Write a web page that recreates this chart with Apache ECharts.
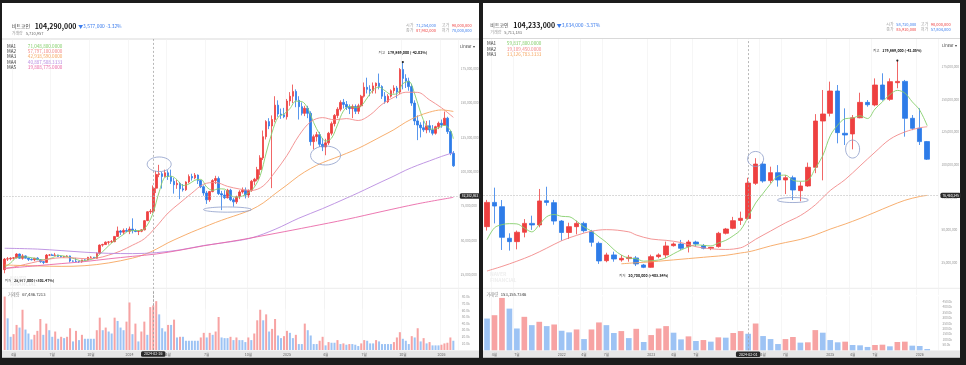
<!DOCTYPE html>
<html>
<head>
<meta charset="utf-8">
<script src="https://cdn.jsdelivr.net/npm/echarts@6/dist/echarts.min.js"></script>
<style>
html,body{margin:0;padding:0;background:#1c1c1c;}
#chart{width:966px;height:365px;}
</style>
</head>
<body>
<div id="chart"></div>
<script>
// ================= LEFT PANEL : weekly (prices in million KRW, volume in k) =================
const weeks = ['2023-03-13','2023-03-20','2023-03-27','2023-04-03','2023-04-10','2023-04-17','2023-04-24','2023-05-01','2023-05-08','2023-05-15','2023-05-22','2023-05-29','2023-06-05','2023-06-12','2023-06-19','2023-06-26','2023-07-03','2023-07-10','2023-07-17','2023-07-24','2023-07-31','2023-08-07','2023-08-14','2023-08-21','2023-08-28','2023-09-04','2023-09-11','2023-09-18','2023-09-25','2023-10-02','2023-10-09','2023-10-16','2023-10-23','2023-10-30','2023-11-06','2023-11-13','2023-11-20','2023-11-27','2023-12-04','2023-12-11','2023-12-18','2023-12-25',
'2024-01-01','2024-01-08','2024-01-15','2024-01-22','2024-01-29','2024-02-05','2024-02-12','2024-02-19','2024-02-26','2024-03-04','2024-03-11','2024-03-18','2024-03-25','2024-04-01','2024-04-08','2024-04-15','2024-04-22','2024-04-29','2024-05-06','2024-05-13','2024-05-20','2024-05-27','2024-06-03','2024-06-10','2024-06-17','2024-06-24','2024-07-01','2024-07-08','2024-07-15','2024-07-22','2024-07-29','2024-08-05','2024-08-12','2024-08-19','2024-08-26','2024-09-02','2024-09-09','2024-09-16','2024-09-23','2024-09-30','2024-10-07','2024-10-14','2024-10-21','2024-10-28','2024-11-04','2024-11-11','2024-11-18','2024-11-25','2024-12-02','2024-12-09','2024-12-16','2024-12-23','2024-12-30',
'2025-01-06','2025-01-13','2025-01-20','2025-01-27','2025-02-03','2025-02-10','2025-02-17','2025-02-24','2025-03-03','2025-03-10','2025-03-17','2025-03-24','2025-03-31','2025-04-07','2025-04-14','2025-04-21','2025-04-28','2025-05-05','2025-05-12','2025-05-19','2025-05-26','2025-06-02','2025-06-09','2025-06-16','2025-06-23','2025-06-30','2025-07-07','2025-07-14','2025-07-21','2025-07-28','2025-08-04','2025-08-11','2025-08-18','2025-08-25','2025-09-01','2025-09-08','2025-09-15','2025-09-22','2025-09-29','2025-10-06','2025-10-13','2025-10-20','2025-10-27','2025-11-03','2025-11-10','2025-11-17','2025-11-24','2025-12-01','2025-12-08','2025-12-15','2025-12-22','2025-12-29',
'2026-01-05','2026-01-12','2026-01-19','2026-01-26','2026-02-02'];

const wOpen = [28.6,36.3,36.5,37.0,37.2,40.0,36.9,38.6,37.0,36.1, 35.8,37.0,35.8,34.4,33.9,39.2,39.3,39.0,39.3,38.2,
 37.8,38.1,38.6,34.9,34.8,34.5,34.4,35.7,35.6,37.6, 37.7,36.9,40.5,46.5,46.9,48.6,48.8,49.0,52.8,56.8,
 55.9,57.2,56.5,58.2,57.0,56.4,56.6,57.6,64.3,70.8, 71.254,88.0,98.0,98.5,96.5,99.2,96.5,93.0,90.5,91.5,
 87.5,86.8,92.5,96.5,95.5,97.5,93.5,89.0,84.5,79.5, 85.5,93.5,95.0,84.0,83.0,81.0,86.5,79.5,78.0,81.8,
 85.2,86.5,83.0,86.4,93.0,94.5,101.5,110.0,125.5,136.5, 133.3,138.0,148.5,142.0,141.5,140.0,151.5,155.0,158.5,152.0,
 147.4,142.5,146.2,142.5,121.9,125.5,127.0,120.0,118.0,121.0, 128.0,135.0,141.0,145.5,150.5,149.0,147.0,146.0,147.5,144.0,
 148.0,155.0,161.5,160.0,159.0,162.5,164.5,162.0,155.0,151.0, 155.0,159.0,161.0,158.0,174.5,168.0,166.0,162.0,150.0,137.0,
 134.0,132.0,130.5,133.5,130.5,128.0,132.8,135.3,134.0,139.0, 129.2,113.4];
const wHigh = [37.1,37.8,37.6,37.7,40.6,40.3,39.9,39.0,37.4,36.9, 37.1,37.7,36.3,34.9,40.0,40.0,40.2,40.8,39.5,38.8,
 38.5,39.1,38.9,35.3,37.2,35.0,35.8,36.2,37.9,38.4, 37.8,41.2,47.0,47.5,49.2,49.4,50.2,53.0,60.0,57.5,
 58.6,58.9,60.0,66.0,58.3,57.3,58.0,64.8,71.2,72.8, 90.0,100.6,105.0,99.9,101.5,101.0,101.5,95.5,94.0,92.5,
 91.0,93.0,98.0,98.5,99.0,98.0,94.0,90.0,86.0,86.0, 94.5,97.0,96.5,86.0,86.5,87.5,87.5,81.0,82.5,86.5,
 88.5,88.5,87.0,94.0,95.5,103.5,112.0,130.0,137.5,139.0, 141.0,155.0,152.0,146.0,146.5,153.0,158.0,163.5,160.0,155.0,
 150.5,148.0,148.0,144.0,127.0,129.0,129.0,124.5,124.0,129.0, 136.5,142.0,147.0,152.0,153.0,151.5,149.0,149.0,149.0,149.5,
 156.0,165.0,168.5,163.0,165.0,165.0,171.5,163.0,158.0,156.5, 160.0,163.0,162.5,175.5,179.869,171.0,168.5,164.0,152.0,141.0,
 136.0,137.0,137.0,137.5,134.0,133.5,136.5,138.0,143.8,140.0, 130.0,115.0];
const wLow = [25.977,34.9,35.4,36.0,36.8,36.5,35.9,36.8,34.9,35.3, 34.8,35.6,33.6,32.6,33.8,38.5,38.8,38.8,37.9,37.5,
 37.3,37.9,33.9,34.4,34.1,33.5,33.6,35.0,35.3,36.9, 36.3,36.6,40.3,45.3,46.6,46.9,47.9,48.6,52.5,53.8,
 54.3,55.9,54.5,55.0,55.9,53.8,55.9,57.2,64.0,69.2, 70.0,84.4,96.0,87.7,95.8,94.0,91.0,84.0,87.5,80.0,
 85.5,86.0,91.5,93.5,94.5,91.0,88.0,82.5,76.5,78.0, 85.0,91.0,83.0,72.0,80.0,80.5,78.5,74.5,76.5,80.0,
 84.0,80.5,81.0,85.3,90.0,93.0,97.5,108.5,123.5,131.0, 88.0,136.0,140.0,138.5,139.0,138.0,148.0,150.0,147.0,138.0,
 141.0,140.5,139.0,119.0,116.3,122.0,118.0,115.0,112.0,119.5, 126.5,133.0,139.0,144.0,146.0,145.0,142.0,139.0,142.0,142.0,
 147.0,154.0,157.0,155.0,157.0,157.0,160.0,153.0,149.5,150.0, 154.0,157.0,153.5,156.5,160.0,161.0,159.0,148.0,134.0,123.0,
 125.0,129.0,128.0,128.5,126.5,127.0,131.0,132.0,133.5,127.5, 112.0,103.5];
const wClose = [36.3,36.5,37.0,37.2,40.0,36.9,38.6,37.0,36.1,35.8, 37.0,35.8,34.4,33.9,39.2,39.3,39.0,39.3,38.2,37.8,
 38.1,38.6,34.9,34.8,34.5,34.4,35.7,35.6,37.6,37.7, 36.9,40.5,46.5,46.9,48.6,48.8,49.0,52.8,56.8,55.9,
 57.2,56.5,58.2,57.0,56.4,56.6,57.6,64.3,70.8,71.25, 87.982,98.0,98.5,96.5,99.2,96.5,93.0,90.5,91.5,87.5,
 86.8,92.5,96.5,95.5,97.5,93.5,89.0,84.5,79.5,85.5, 93.5,95.0,84.0,83.0,81.0,86.5,79.5,78.0,81.8,85.2,
 86.5,83.0,86.4,93.0,94.5,101.5,110.0,125.5,136.5,133.3, 138.0,148.5,142.0,141.5,140.0,151.5,155.0,158.5,152.0,147.4,
 142.5,146.2,142.5,121.9,125.5,127.0,120.0,118.0,121.0,128.0, 135.0,141.0,145.5,150.5,149.0,147.0,146.0,147.5,144.0,148.0,
 155.0,161.5,160.0,159.0,162.5,164.5,162.0,155.0,151.0,155.0, 159.0,161.0,158.0,174.5,168.0,166.0,162.0,150.0,137.0,134.0,
 132.0,130.5,133.5,130.5,128.0,132.8,135.3,134.0,139.0,129.2, 113.4,104.29];
const wVolume = [81,48,20,24,38,34,61,31,25,16, 23,29,47,23,40,30,20,28,17,20, 18,20,33,13,29,15,23,17,17,17,
 17,30,49,30,34,28,25,49,44,34, 30,43,72,24,40,13,28,43,23,65, 67.49,74,54,33,28,38,38,46,19,20,
 20,14,14,14,14,14,19,26,19,26, 23,28,50,19,18,18,20,15,19,15, 15,12,19,15,25,45,61,45,54,28,
 32,47,22,18,21,29,26,18,23,9, 9,40,30,22,9,9,14,20,7,12, 11,11,15,9,10,8,9,9,8,6,
 10,15,14,10,10,15,13,9,9,9, 9,12,19,27,17,14,9,21,19,33, 13,18,10,12,7,7,7,8,10,11, 19,14];

// moving-average lines: [week index, value]
const wMA1 = [[0,30.5],[2,33.5],[4,37.4],[6,37.9],[8,37.7],[10,36.9],[12,35.8],[14,36.1],[16,37.2],[18,39.0],[20,38.5],[22,37.5],[24,36.2],[26,34.9],[28,35.6],[30,36.7],[32,39.8],[34,43.9],[36,48.0],[38,51.2],[40,54.3],[42,56.9],[44,57.1],[46,57.2],[48,61.1],[50,70.4],[52,85.3],[54,96.0],[56,96.7],[58,94.1],[60,89.9],[62,91.0],[64,93.8],[66,94.4],[68,88.8],[70,86.4],[72,87.5],[74,87.3],[76,82.8],[78,81.4],[80,82.2],[82,84.6],[84,88.7],[86,97.1],[88,113.6],[90,128.7],[92,139.7],[94,142.0],[96,146.0],[98,151.4],[100,151.1],[102,146.1],[104,135.7],[106,127.4],[108,122.3],[110,124.4],[112,134.1],[114,144.2],[116,147.6],[118,146.7],[120,148.1],[122,153.7],[124,159.6],[126,161.6],[128,159.0],[130,156.4],[132,156.8],[134,164.1],[136,165.7],[138,156.6],[140,143.0],[142,133.4],[144,130.9],[146,132.0],[148,133.8],[150,130.2],[151,124.0]];
const wMA2 = [[0,29.5],[3,30.5],[7,32.5],[11,34.5],[15,36.3],[19,37.3],[23,37.2],[27,36.6],[31,37.0],[35,39.2],[39,42.2],[43,46.4],[47,51.1],[51,59.9],[55,69.9],[59,77.3],[63,84.4],[67,90.9],[71,92.1],[75,89.3],[79,87.4],[83,86.3],[87,89.6],[91,99.8],[95,111.8],[99,126.2],[103,136.4],[107,139.4],[111,137.8],[115,138.7],[119,137.3],[123,141.4],[127,149.1],[131,154.2],[135,157.9],[139,157.8],[143,152.3],[147,146.6],[151,139.6]];
const wMA3 = [[0,32.0],[3,31.8],[11,31.3],[19,31.0],[27,31.5],[35,33.5],[43,37.0],[47,39.6],[51,43.5],[55,48.2],[59,52.2],[63,56.0],[67,59.5],[71,63.0],[75,66.1],[79,69.0],[83,72.3],[87,77.2],[91,83.9],[95,90.3],[99,97.0],[103,102.4],[107,106.6],[111,109.9],[115,113.3],[119,117.0],[123,121.4],[127,126.0],[131,130.6],[135,136.1],[139,140.4],[143,143.4],[147,145.0],[151,143.9]];
const wMA4 = [[0,44.2],[11,43.6],[19,42.5],[27,41.3],[35,40.5],[43,40.3],[51,41.0],[59,43.0],[67,46.2],[75,48.6],[83,51.7],[91,58.0],[99,66.1],[107,73.1],[115,80.7],[119,84.6],[123,88.7],[127,92.8],[131,96.8],[135,101.1],[139,104.7],[143,107.9],[147,111.1],[151,113.9]];
const wMA5 = [[0,29.5],[11,31.5],[19,33.0],[27,34.5],[35,36.5],[43,38.3],[51,40.0],[59,42.8],[67,46.0],[79,50.2],[91,55.0],[103,60.0],[115,65.2],[127,71.0],[139,76.6],[151,81.3]];
const wMALegend = ['71,048,800.0000','57,797,100.0000','42,938,590.0000','40,887,508.3333','39,808,775.0000'];

// ================= RIGHT PANEL : monthly =================
const months = ['2021-03-01','2021-04-01','2021-05-01','2021-06-01','2021-07-01','2021-08-01','2021-09-01','2021-10-01','2021-11-01','2021-12-01',
 '2022-01-01','2022-02-01','2022-03-01','2022-04-01','2022-05-01','2022-06-01','2022-07-01','2022-08-01','2022-09-01','2022-10-01','2022-11-01','2022-12-01',
 '2023-01-01','2023-02-01','2023-03-01','2023-04-01','2023-05-01','2023-06-01','2023-07-01','2023-08-01','2023-09-01','2023-10-01','2023-11-01','2023-12-01',
 '2024-01-01','2024-02-01','2024-03-01','2024-04-01','2024-05-01','2024-06-01','2024-07-01','2024-08-01','2024-09-01','2024-10-01','2024-11-01','2024-12-01',
 '2025-01-01','2025-02-01','2025-03-01','2025-04-01','2025-05-01','2025-06-01','2025-07-01','2025-08-01','2025-09-01','2025-10-01','2025-11-01','2025-12-01',
 '2026-01-01','2026-02-01'];
const mOpen = [52.5,71.1,67.8,43.6,41.0,48.2,55.0,53.8,72.4,70.9, 56.8,48.0,52.5,55.0,48.6,39.7,26.4,30.8,27.0,28.0,
 28.5,23.1,21.3,29.5,30.8,37.9,39.2,37.2,40.7,37.9, 35.9,37.2,47.4,51.2,57.3,58.73,85.7,100.5,87.8,93.9,
 88.3,90.0,80.1,83.7,98.0,133.5,139.4,156.5,124.1,123.6, 136.0,147.8,145.8,161.1,150.1,162.9,163.9,135.6,127.9,117.7];
const mHigh = [73.0,82.4,72.9,47.4,49.5,58.3,60.9,81.4,83.1,73.0, 57.5,55.5,57.1,56.3,50.0,41.0,32.5,33.3,30.8,30.8,
 30.0,23.9,31.0,32.0,41.0,40.4,42.3,42.3,41.7,39.2, 36.9,48.5,51.5,60.0,64.0,90.0,105.0,102.3,98.5,99.7,
 92.0,91.6,87.0,101.6,138.8,157.3,163.7,161.1,143.2,138.1, 155.2,149.6,166.2,170.1,166.2,179.869,165.0,138.1,143.2,118.2];
const mLow = [49.5,55.0,34.6,34.1,35.1,44.3,50.0,52.0,68.6,54.0, 41.7,43.0,46.6,47.9,37.2,23.9,25.2,25.6,25.6,25.6,
 22.3,20.7,20.9,28.2,28.5,37.2,34.6,32.7,37.2,35.1, 34.5,36.4,46.5,50.5,53.8,57.804,84.5,86.2,85.7,83.2,
 77.5,72.9,72.0,83.0,93.5,88.0,137.0,116.4,115.1,111.8, 135.6,144.5,144.8,149.1,149.0,158.6,121.5,126.5,115.1,103.6];
const mClose = [71.1,68.3,44.3,41.0,48.2,55.0,53.8,72.2,71.1,56.8, 48.0,52.5,55.0,49.4,40.5,26.2,30.8,27.7,28.2,29.0,
 23.9,21.3,29.5,30.8,37.7,39.2,35.9,40.7,39.2,35.9, 36.6,47.4,50.7,57.1,58.9,85.91,100.5,87.5,93.9,88.3,
 90.0,80.6,83.7,98.0,133.5,138.9,156.5,124.6,122.8,136.0, 147.8,146.0,161.1,150.1,163.7,163.9,135.6,127.9,117.7,104.233];
const mVolume = [294,325,485,386,202,310,233,264,224,239, 181,166,193,104,193,258,233,160,178,113,
 199,77,141,202,224,163,101,129,86,95, 80,120,117,160,178,153.16,248,132,104,58,
 104,123,71,74,187,163,95,74,80,49, 46,31,49,52,37,77,80,43,40,12];
const mMA1 = [42.5,51.6,54.0,54.8,54.6,51.4,48.5,54.0,60.1,61.8, 60.4,60.1,56.7,52.3,49.1,44.7,40.4,34.9,30.7,28.4,
 27.9,26.0,26.4,26.9,28.6,31.7,34.6,36.9,38.5,38.2, 37.7,40.0,42.0,45.5,50.1,60.0,70.6,78.0,85.3,91.2,
 92.0,88.1,87.3,88.1,97.2,106.9,122.1,130.3,135.3,135.8, 137.5,135.4,142.7,148.2,153.7,157.0,154.9,148.2,141.8,129.9];
const mMA2 = [[0,18.5],[2,22.0],[4,26.0],[6,30.5],[8,36.0],[10,41.7],[12,45.8],[14,49.0],[16,50.2],[19,48.5],[20,46.1],[22,43.0],[24,42.0],[26,40.3],[28,37.1],[30,35.5],[32,35.0],[34,36.3],[35,39.1],[36,42.8],[38,49.1],[40,55.4],[42,61.0],[44,69.2],[46,80.2],[48,88.6],[50,99.1],[52,109.6],[54,119.5],[56,125.1],[58,128.3],[59,129.1]];
const mMA3 = [[18,24.0],[20,24.8],[22,25.5],[24,26.5],[26,27.5],[28,28.5],[30,29.5],[32,30.5],[34,32.3],[35,33.13],[36,34.5],[38,37.7],[40,40.3],[42,42.7],[44,46.2],[46,50.6],[48,54.5],[50,58.8],[52,63.5],[54,68.3],[56,72.7],[58,75.6],[59,76.46]];
const mMALegend = ['59,837,800.0000','39,109,450.0000','33,126,783.3333'];

// header / crosshair texts
const headL = {name:'비트코인', price:'104,290,000', chg:'▼3,577,000 -3.32%', vol:'5,710,957', o:'71,254,000', h:'90,000,000', c:'87,982,000', l:'70,000,000', crossDate:'2024-02-26', crossVol:'67,486.7213', crossPrice:82.282862};
const headR = {name:'비트코인', price:'104,233,000', chg:'▼3,634,000 -3.37%', vol:'5,711,183', o:'58,730,000', h:'90,000,000', c:'85,910,000', l:'57,804,000', crossDate:'2024-02-01', crossVol:'153,155.7346', crossPrice:76.460345};

// ================= rendering =================
const FONT = '"Noto Sans CJK KR","Noto Sans",sans-serif';
const UP='#ee4040', DOWN='#2e7ce8', VUP='#f7a3a3', VDOWN='#9dc3f4';
const MA_COLORS = ['#86cf6c','#f28a8a','#f6a660','#b98be0','#ea69a8'];
const fmtInt = v => Math.round(v).toLocaleString('en-US');
const fmtPrice = v => fmtInt(v*1e6);
const blackBox = {backgroundColor:'#2a2a2a', color:'#fff', fontSize:3.3, padding:[1,2], borderRadius:1.5, fontFamily:FONT};

function candles(o,c,l,h){ return o.map((v,i)=>[v,c[i],l[i],h[i]]); }
function vols(v, firstUp){ return v.map((x,i)=>({value:x, itemStyle:{color:(i===0?firstUp:x>v[i-1])?VUP:VDOWN}})); }
function pairs(cats, arr){ return arr.map(p=>[cats[p[0]], p[1]]); }
function argMax(a){ let k=0; a.forEach((v,i)=>{ if(v>a[k]) k=i; }); return k; }
function argMin(a){ let k=0; a.forEach((v,i)=>{ if(v<a[k]) k=i; }); return k; }
function pct(cur, ref){ const p=(cur/ref-1)*100; return (p>0?'+':'')+p.toFixed(2)+'%'; }

const weeklyTick = v => { if(!v) return false; const m=+v.slice(5,7), d=+v.slice(8,10); return d<=7 && [1,4,7,10].includes(m); };
const monthlyTick = v => { if(!v) return false; const m=+v.slice(5,7); return [1,4,7].includes(m); };
const tickText = v => { const m=+v.slice(5,7); return m===1 ? v.slice(0,4) : m+'월'; };

function xAxis(grid, cats, tickFn, showLabel){
  return {type:'category', gridIndex:grid, data:cats, boundaryGap:true,
    axisLine:{show:false}, axisTick:{show:false},
    axisLabel:{show:showLabel, interval:(i,v)=>tickFn(v), formatter:tickText, fontSize:3.6, color:'#666', margin:2.5, fontFamily:FONT},
    splitLine:{show:true, interval:(i,v)=>tickFn(v), lineStyle:{color:'#f0f0f0', width:0.6}}};
}
function priceAxis(grid, max){
  return {type:'value', gridIndex:grid, position:'right', min:0, max:max, interval:25, scale:false,
    splitLine:{show:false}, axisLine:{show:false}, axisTick:{show:false},
    axisLabel:{fontSize:3.2, color:'#9a9a9a', margin:3, fontFamily:FONT, showMinLabel:true, showMaxLabel:true,
      formatter:v => (v>=25 && v<=175 && v%25===0) ? fmtPrice(v) : ''}};
}
function volAxis(grid, max, interval, top){
  return {type:'value', gridIndex:grid, position:'right', min:0, max:max, interval:interval,
    splitLine:{show:false}, axisLine:{show:false}, axisTick:{show:false},
    axisLabel:{fontSize:3.2, color:'#9a9a9a', margin:4, fontFamily:FONT,
      formatter:v => (v>0 && v<=top) ? v.toFixed(1)+'k' : ''}};
}
function maSeries(name, data, color, xi, yi){
  return {name, type:'line', xAxisIndex:xi, yAxisIndex:yi, data, showSymbol:false, smooth:0.35, silent:true,
    lineStyle:{color, width:0.9}, z:3};
}
function candleSeries(cats, o,c,l,h, head, xi, yi, barW){
  const hi = argMax(h), lo = argMin(l);
  const cur = c[c.length-1];
  const curStr = fmtPrice(cur);
  return {type:'candlestick', xAxisIndex:xi, yAxisIndex:yi, data:candles(o,c,l,h), barWidth:barW, silent:true,
    itemStyle:{color:UP, color0:DOWN, borderColor:UP, borderColor0:DOWN, borderWidth:0.8},
    markLine:{symbol:['none','none'], silent:true, animation:false, data:[
      {xAxis:cats.indexOf(head.crossDate), lineStyle:{type:[2,2], color:'#9a9a9a', width:0.7}, label:{show:false}},
      {yAxis:head.crossPrice, lineStyle:{type:[1.5,1.5], color:'#b8b8b8', width:0.7},
        label:Object.assign({show:true, position:'end', distance:2, formatter:fmtPrice(head.crossPrice)}, blackBox)},
      {yAxis:cur, lineStyle:{opacity:0},
        label:Object.assign({}, blackBox, {show:true, position:'end', distance:2, formatter:curStr, backgroundColor:'#3f83ee'})}
    ]},
    markPoint:{silent:true, animation:false, data:[
      {coord:[hi, h[hi]], symbol:'circle', symbolSize:2.2, itemStyle:{color:'#222'},
        label:{show:true, position:'top', distance:2.5, fontFamily:FONT,
          formatter:'{a|최고} {b|'+fmtPrice(h[hi])+' ('+pct(cur,h[hi])+')}',
          rich:{a:{fontSize:3.6, color:'#555', fontFamily:FONT}, b:{fontSize:3.6, color:'#111', fontWeight:'bold', fontFamily:FONT}}}},
      {coord:[lo, l[lo]], symbol:'circle', symbolSize:0.1, itemStyle:{color:'#222'},
        label:{show:true, position:'bottom', distance:1.5, align: lo===0 ? 'left':'center', fontFamily:FONT,
          formatter:'{a|최저} {b|'+fmtPrice(l[lo])+' ('+pct(cur,l[lo])+')}',
          rich:{a:{fontSize:3.6, color:'#555', fontFamily:FONT}, b:{fontSize:3.6, color:'#111', fontWeight:'bold', fontFamily:FONT}}}}
    ]}};
}
function volSeries(v, firstUp, cats, head, xi, yi, barW){
  return {type:'bar', xAxisIndex:xi, yAxisIndex:yi, data:vols(v, firstUp), barWidth:barW, silent:true,
    markLine:{symbol:['none','none'], silent:true, animation:false, data:[
      {xAxis:cats.indexOf(head.crossDate), lineStyle:{type:[2,2], color:'#9a9a9a', width:0.7},
        label:Object.assign({}, blackBox, {show:true, position:'start', distance:1.2, formatter:head.crossDate, fontSize:3.6, padding:[1,3]})}
    ]}};
}

const catsL = weeks.concat(['']);
const catsR = months.concat(['']);

const option = {
  animation:false,
  backgroundColor:'#1c1c1c',
  textStyle:{fontFamily:FONT},
  grid:[
    {left:3.2, top:39, width:454.6, height:269.9, outerBoundsMode:'none'},
    {left:3.2, top:290.6, width:454.6, height:59.4, outerBoundsMode:'none'},
    {left:483.3, top:39, width:455.1, height:256.1, outerBoundsMode:'none'},
    {left:483.3, top:296.3, width:455.1, height:54, outerBoundsMode:'none'}
  ],
  xAxis:[ xAxis(0,catsL,weeklyTick,false), xAxis(1,catsL,weeklyTick,true), xAxis(2,catsR,monthlyTick,false), xAxis(3,catsR,monthlyTick,true) ],
  yAxis:[ priceAxis(0,196.7), volAxis(1,90,10,80), priceAxis(2,196.4), volAxis(3,500,50,450) ],
  series:[
    candleSeries(weeks, wOpen,wClose,wLow,wHigh, headL, 0,0,'70%'),
    maSeries('MA1', pairs(weeks,wMA1), MA_COLORS[0], 0,0),
    maSeries('MA2', pairs(weeks,wMA2), MA_COLORS[1], 0,0),
    maSeries('MA3', pairs(weeks,wMA3), MA_COLORS[2], 0,0),
    maSeries('MA4', pairs(weeks,wMA4), MA_COLORS[3], 0,0),
    maSeries('MA5', pairs(weeks,wMA5), MA_COLORS[4], 0,0),
    volSeries(wVolume, true, weeks, headL, 1,1,'68%'),
    candleSeries(months, mOpen,mClose,mLow,mHigh, headR, 2,2,'67%'),
    maSeries('MA1', mMA1.map((v,i)=>[months[i],v]), MA_COLORS[0], 2,2),
    maSeries('MA2', pairs(months,mMA2), MA_COLORS[1], 2,2),
    maSeries('MA3', pairs(months,mMA3), MA_COLORS[2], 2,2),
    volSeries(mVolume, false, months, headR, 3,3,'76%')
  ]
};

const chart = echarts.init(document.getElementById('chart'), null, {width:966, height:365});
chart.setOption(option);

// ---------- decorations ----------
function txt(x, y, text, size, fill, extra){
  return {type:'text', x, y, silent:true, z:20, style:Object.assign({text, fontSize:size, fill, fontFamily:FONT, verticalAlign:'middle', align:'left'}, extra||{})};
}
function rich(x, y, label, value, color){
  return {type:'text', x, y, silent:true, z:20, style:{text:'{l|'+label+'} {v|'+value+'}', fontFamily:FONT, verticalAlign:'middle', align:'left',
    rich:{l:{fontSize:4, fill:'#9a9a9a', fontFamily:FONT}, v:{fontSize:4, fill:color, fontFamily:FONT}}}};
}
function header(x0, yTop, head, ohlcX1, ohlcX2){
  return [
    txt(x0, yTop, head.name, 5, '#444'),
    txt(x0+23, yTop, head.price, 7, '#111', {fontWeight:'bold'}),
    txt(x0+66.5, yTop+0.3, head.chg, 4.9, '#3b7ced'),
    txt(x0, yTop+7.7, '거래량', 4, '#9a9a9a'),
    txt(x0+14, yTop+7.7, head.vol, 4, '#666'),
    rich(ohlcX1, yTop-0.3, '시가', head.o, '#3b7ced'),
    rich(ohlcX2, yTop-0.3, '고가', head.h, '#ee4040'),
    rich(ohlcX1, yTop+4.7, '종가', head.c, '#ee4040'),
    rich(ohlcX2, yTop+4.7, '저가', head.l, '#3b7ced')
  ];
}
function legend(x, valRight, y0, step, values){
  const out = [];
  values.forEach((v,i)=>{
    out.push(txt(x, y0+i*step, 'MA'+(i+1), 4.6, '#333'));
    out.push(txt(valRight, y0+i*step, v, 4.6, MA_COLORS[i], {align:'right'}));
  });
  return out;
}
function ellipse(gridIdx, idx, val, rx, ry){
  const p = chart.convertToPixel({xAxisIndex:gridIdx, yAxisIndex:gridIdx}, [idx, val]);
  return {type:'ellipse', silent:true, z:30, shape:{cx:p[0], cy:p[1], rx, ry}, style:{fill:'none', stroke:'#8d9dc9', lineWidth:0.8}};
}

const graphics = [
  {type:'rect', z:-10, silent:true, shape:{x:2, y:3, width:477, height:354.5}, style:{fill:'#ffffff'}},
  {type:'rect', z:-10, silent:true, shape:{x:483, y:3, width:477, height:354.5}, style:{fill:'#ffffff'}},
  {type:'rect', z:-9, silent:true, shape:{x:2, y:350.6, width:477, height:6.9}, style:{fill:'#e7e7e7'}},
  {type:'rect', z:-9, silent:true, shape:{x:483, y:350.6, width:477, height:6.9}, style:{fill:'#e7e7e7'}},
  {type:'line', z:-8, silent:true, shape:{x1:2, y1:39, x2:479, y2:39}, style:{stroke:'#cfcfcf', lineWidth:0.8}},
  {type:'line', z:-8, silent:true, shape:{x1:483, y1:38.5, x2:960, y2:38.5}, style:{stroke:'#cfcfcf', lineWidth:0.8}},
  {type:'line', z:-8, silent:true, shape:{x1:2, y1:288.3, x2:479, y2:288.3}, style:{stroke:'#e2e2e2', lineWidth:0.7}},
  {type:'line', z:-8, silent:true, shape:{x1:483, y1:288.3, x2:960, y2:288.3}, style:{stroke:'#e2e2e2', lineWidth:0.7}},
  txt(10, 278.5, 'NAVER', 5, '#efefef', {fontWeight:'bold'}),
  txt(10, 284, 'FINANCIAL', 5, '#efefef', {fontWeight:'bold'}),
  txt(490, 274.5, 'NAVER', 5, '#eeeeee', {fontWeight:'bold'}),
  txt(490, 280.5, 'FINANCIAL', 5, '#eeeeee', {fontWeight:'bold'}),
  ...header(11.7, 26, headL, 406, 441.7),
  ...header(490.3, 25, headR, 886.3, 920.7),
  ...legend(7, 62.3, 46, 5.25, wMALegend),
  ...legend(487, 541.3, 43.3, 5.7, mMALegend),
  txt(460, 46, 'Linear ▾', 4, '#444'),
  txt(942, 45, 'Linear ▾', 4, '#444'),
  {type:'text', x:8, y:294.3, silent:true, z:20, style:{text:'{l|거래량} {v|'+headL.crossVol+'}', verticalAlign:'middle', fontFamily:FONT,
    rich:{l:{fontSize:4.2, fill:'#888', fontFamily:FONT}, v:{fontSize:4.2, fill:'#333', fontFamily:FONT}}}},
  {type:'text', x:486.5, y:294.3, silent:true, z:20, style:{text:'{l|거래량} {v|'+headR.crossVol+'}', verticalAlign:'middle', fontFamily:FONT,
    rich:{l:{fontSize:4.2, fill:'#888', fontFamily:FONT}, v:{fontSize:4.2, fill:'#333', fontFamily:FONT}}}},
  ellipse(0, 52, 105.4, 12, 7.3),
  ellipse(0, 75, 72.4, 24, 2.6),
  ellipse(0, 108, 111.8, 15, 9.5),
  ellipse(2, 36, 104.4, 8, 7.5),
  ellipse(2, 41, 72.9, 15.5, 2.5),
  ellipse(2, 49, 112.0, 7, 9)
];
chart.setOption({graphic:{elements:graphics}});
</script>
</body>
</html>
